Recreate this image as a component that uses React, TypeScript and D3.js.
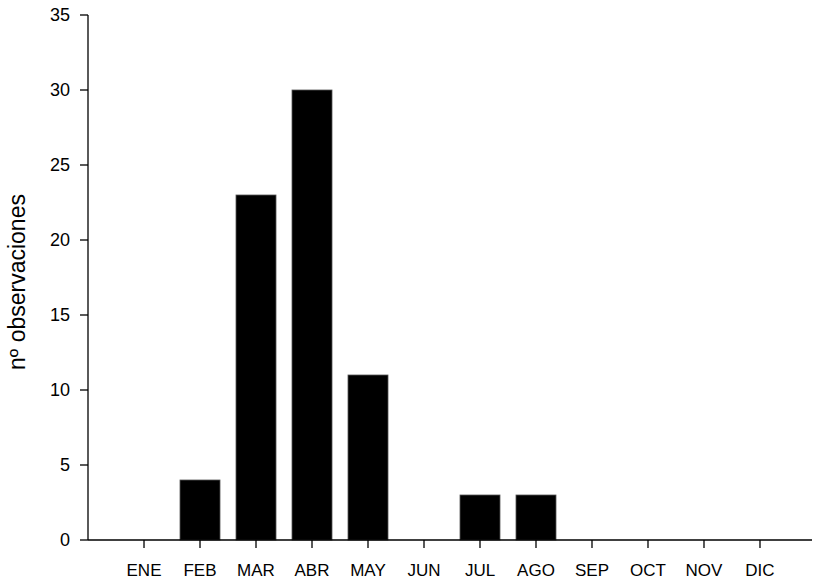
import React, { useEffect, useRef } from "react";
import * as d3 from "d3";

const months = ["ENE", "FEB", "MAR", "ABR", "MAY", "JUN", "JUL", "AGO", "SEP", "OCT", "NOV", "DIC"];
const observations = [0, 4, 23, 30, 11, 0, 3, 3, 0, 0, 0, 0];
const yTicks = [0, 5, 10, 15, 20, 25, 30, 35];
const yLabel = "nº observaciones";

export default function App() {
  const ref = useRef<SVGSVGElement | null>(null);
  useEffect(() => {
    const svg = d3.select(ref.current);
    svg.selectAll("*").remove();
    const W = 813, H = 581;
    const axisX = 88, axisEnd = 812;
    const y = d3.scaleLinear().domain([0, 35]).range([540, 15]);
    const x = d3.scaleBand<string>().domain(months).range([116, 788]).paddingInner(0.2857).paddingOuter(0.143);
    const font = "'Liberation Sans', Arial, sans-serif";

    // bars
    svg.append("g").selectAll("rect").data(months).join("rect")
      .attr("x", (d) => x(d)!)
      .attr("width", x.bandwidth())
      .attr("y", (d, i) => y(observations[i]))
      .attr("height", (d, i) => y(0) - y(observations[i]))
      .attr("fill", "#000")
      .attr("stroke", "#555")
      .attr("stroke-width", 0.8);

    // y axis
    const ya = svg.append("g").attr("transform", `translate(${axisX},0)`);
    ya.append("line").attr("x1", 0).attr("x2", 0).attr("y1", y(35)).attr("y2", y(0)).attr("stroke", "#000").attr("stroke-width", 1.3);
    ya.selectAll("line.t").data(yTicks).join("line").attr("class", "t")
      .attr("x1", -8).attr("x2", 0).attr("y1", (d) => y(d)).attr("y2", (d) => y(d))
      .attr("stroke", "#000").attr("stroke-width", 1.3);
    ya.selectAll("text").data(yTicks).join("text")
      .attr("x", -18).attr("y", (d) => y(d)).attr("dy", "0.36em")
      .attr("text-anchor", "end").attr("font-family", font).attr("font-size", 18)
      .text((d) => String(d));

    // x axis
    const xa = svg.append("g");
    xa.append("line").attr("x1", axisX).attr("x2", axisEnd).attr("y1", y(0)).attr("y2", y(0)).attr("stroke", "#000").attr("stroke-width", 1.3);
    xa.selectAll("line.t").data(months).join("line").attr("class", "t")
      .attr("x1", (d) => x(d)! + x.bandwidth() / 2).attr("x2", (d) => x(d)! + x.bandwidth() / 2)
      .attr("y1", y(0)).attr("y2", y(0) + 8).attr("stroke", "#000").attr("stroke-width", 1.3);
    xa.selectAll("text").data(months).join("text")
      .attr("x", (d) => x(d)! + x.bandwidth() / 2).attr("y", 576)
      .attr("text-anchor", "middle").attr("font-family", font).attr("font-size", 17)
      .text((d) => d);

    // y label
    svg.append("text")
      .attr("transform", `translate(25,282) rotate(-90)`)
      .attr("text-anchor", "middle").attr("font-family", font).attr("font-size", 23)
      .text(yLabel);

    svg.attr("width", W).attr("height", H);
  }, []);
  return (
    <svg ref={ref} width={813} height={581} style={{ position: "absolute", left: 0, top: 0, background: "#fff" }} />
  );
}
